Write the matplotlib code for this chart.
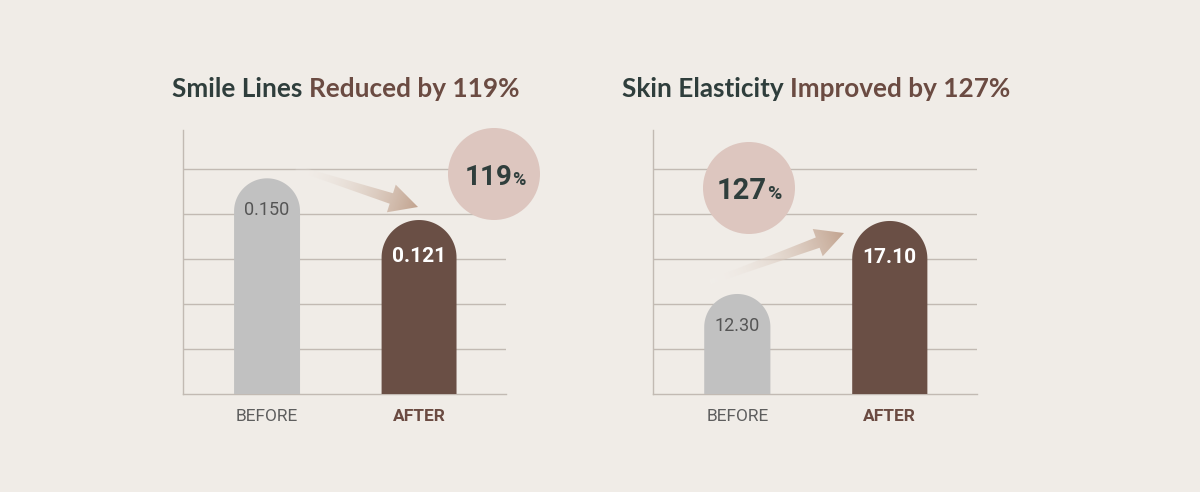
import numpy as np
import matplotlib.pyplot as plt
from matplotlib.patches import Polygon, Circle

# ---------------------------------------------------------------- data
categories = ["BEFORE", "AFTER"]
smile_values = [0.150, 0.121]
smile_labels = ["0.150", "0.121"]
elastic_values = [12.30, 17.10]
elastic_labels = ["12.30", "17.10"]
smile_title = ("Smile Lines ", "Reduced by 119%")
elastic_title = ("Skin Elasticity ", "Improved by 127%")
smile_pct = "119"
elastic_pct = "127"

# ---------------------------------------------------------------- style
W, H = 1200, 492
BG = "#f0ece7"
GRID = "#c2bab3"
GRAY = "#c1c1c1"
BROWN = "#6a4f45"
DARK = "#2f3e3c"
TITLE_BROWN = "#6b4b42"
CIRCLE = "#ddc6bf"
ARROW = np.array([0.76, 0.64, 0.56])
ARROW_TAIL = np.array([0.97, 0.96, 0.95])

fig = plt.figure(figsize=(W / 100, H / 100), dpi=100, facecolor=BG)


def px_rect(x0, y0, x1, y1):
    # image pixel box (y down) -> figure fraction rect
    return [x0 / W, 1 - y1 / H, (x1 - x0) / W, (y1 - y0) / H]


def dome_bar(ax, rect, x, h, w, base, color):
    # bar with a half-circle top, drawn in data coords
    xlo, xhi = ax.get_xlim()
    ylo, yhi = ax.get_ylim()
    px_x = rect[2] * W / (xhi - xlo)
    px_y = rect[3] * H / (yhi - ylo)
    rx = w / 2
    ry = rx * px_x / px_y
    t = np.linspace(0, np.pi, 60)
    xs = np.concatenate([[x + rx], x + rx * np.cos(t), [x - rx]])
    ys = np.concatenate([[base], h - ry + ry * np.sin(t), [base]])
    ax.fill(xs, ys, color=color, lw=0, zorder=3)


def draw_chart(rect, values, labels, ylim, widths):
    ax = fig.add_axes(rect)
    ax.set_facecolor("none")
    ax.set_xlim(-0.553, 1.572)
    ax.set_ylim(*ylim)
    step = (ylim[1] - ylim[0]) * 45 / 264
    ax.set_yticks([ylim[0] + k * step for k in range(1, 6)])
    ax.yaxis.grid(True, color=GRID, lw=1)
    ax.tick_params(axis="y", length=0, labelleft=False)
    ax.tick_params(axis="x", length=0, pad=11)
    for s in ["top", "right"]:
        ax.spines[s].set_visible(False)
    for s in ["left", "bottom"]:
        ax.spines[s].set_color(GRID)
        ax.spines[s].set_linewidth(1)
    ax.set_xticks(range(len(categories)))
    ax.set_xticklabels(categories, family="Roboto", fontsize=12.5)
    tl = ax.get_xticklabels()
    tl[0].set_color("#5e5e5e")
    tl[1].set_color(TITLE_BROWN)
    tl[1].set_fontweight("bold")

    colors = [GRAY, BROWN]
    for i, (v, lab) in enumerate(zip(values, labels)):
        dome_bar(ax, rect, i, v, widths[i], ylim[0], colors[i])
        if i == 0:
            ax.annotate(lab, (i, v), xytext=(0, -23), textcoords="offset points",
                        ha="center", va="center", family="Roboto", fontsize=13,
                        color="#555555", zorder=4)
        else:
            ax.annotate(lab, (i, v), xytext=(0, -26), textcoords="offset points",
                        ha="center", va="center", family="Roboto", fontsize=15,
                        fontweight="bold", color="white", zorder=4)
    return ax


left_rect = px_rect(183, 130, 506, 394)
right_rect = px_rect(653, 130, 977, 394)
draw_chart(left_rect, smile_values, smile_labels, (0, 0.1836), [0.434, 0.493])
draw_chart(right_rect, elastic_values, elastic_labels, (5.725, 23.08), [0.434, 0.493])

# ---------------------------------------------------------------- overlay (pixel coords)
ov = fig.add_axes([0, 0, 1, 1], zorder=5)
ov.set_xlim(0, W)
ov.set_ylim(H, 0)
ov.axis("off")
ov.patch.set_alpha(0)
renderer = fig.canvas.get_renderer()


def segments(cx, y, parts):
    texts = [ov.text(0, y, s, va="baseline", ha="left", **kw) for s, kw in parts]
    widths = [t.get_window_extent(renderer).width for t in texts]
    x = cx - sum(widths) / 2
    for t, w in zip(texts, widths):
        t.set_x(x)
        x += w


def grad_arrow(tail, tip, head_len=28, head_half=14.5, shaft_half=5.5, tail_half=2.5):
    t = np.array(tail, float)
    p = np.array(tip, float)
    d = p - t
    L = np.hypot(*d)
    u = d / L
    n = np.array([-u[1], u[0]])
    b = p - u * head_len
    pts = np.array([t + n * tail_half, b + n * shaft_half, b + n * head_half, p,
                    b - n * head_half, b - n * shaft_half, t - n * tail_half])
    x0, y0 = pts.min(axis=0) - 2
    x1, y1 = pts.max(axis=0) + 2
    X, Y = np.meshgrid(np.linspace(x0, x1, 200), np.linspace(y0, y1, 200))
    s = np.clip(((X - t[0]) * u[0] + (Y - t[1]) * u[1]) / L, 0, 1)
    rgba = np.zeros(X.shape + (4,))
    rgba[..., :3] = ARROW_TAIL + (ARROW - ARROW_TAIL) * s[..., None]
    rgba[..., 3] = 0.15 + 0.85 * s
    poly = Polygon(pts, closed=True, fc="none", ec="none", transform=ov.transData)
    ov.add_patch(poly)
    im = ov.imshow(rgba, extent=(x0, x1, y0, y1), origin="lower", aspect="auto",
                   interpolation="bilinear")
    im.set_clip_path(poly)


grad_arrow((296, 168), (418, 207))
grad_arrow((710, 282), (844, 233))
ov.set_xlim(0, W)
ov.set_ylim(H, 0)

ov.add_patch(Circle((494, 174), 46, fc=CIRCLE, ec="none"))
ov.add_patch(Circle((749, 188), 46, fc=CIRCLE, ec="none"))

title_kw = dict(family="Lato", fontweight="bold", fontsize=18.8)
segments(346, 97, [(smile_title[0], dict(color=DARK, **title_kw)),
                   (smile_title[1], dict(color=TITLE_BROWN, **title_kw))])
segments(816, 97, [(elastic_title[0], dict(color=DARK, **title_kw)),
                   (elastic_title[1], dict(color=TITLE_BROWN, **title_kw))])

pct_kw = dict(family="Roboto", fontweight="bold", color=DARK)
segments(495, 185, [(smile_pct, dict(fontsize=20, **pct_kw)),
                    ("%", dict(fontsize=13, **pct_kw))])
segments(749, 199, [(elastic_pct, dict(fontsize=21, **pct_kw)),
                    ("%", dict(fontsize=14, **pct_kw))])

fig.savefig("out.png", dpi=100, facecolor=BG)
